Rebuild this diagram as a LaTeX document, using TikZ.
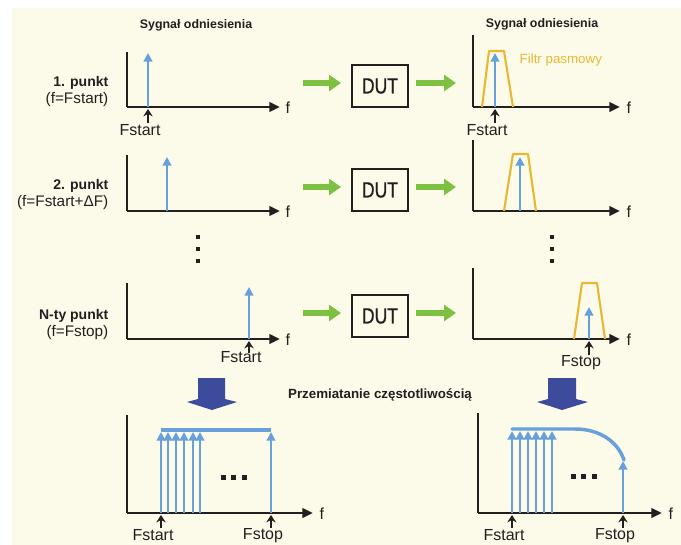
\documentclass[tikz,border=0pt]{standalone}
\usepackage{fontspec}
\setmainfont{Liberation Sans}
\newfontfamily\condfont[FakeStretch=0.8,FakeBold=0.6]{Liberation Sans}
\usetikzlibrary{arrows.meta}
\definecolor{cream}{RGB}{252,251,234}
\definecolor{spikeblue}{RGB}{104,160,220}
\definecolor{arrgreen}{RGB}{125,192,66}
\definecolor{filtyellow}{RGB}{232,184,52}
\definecolor{blockblue}{RGB}{60,75,156}
\definecolor{ink}{RGB}{35,31,32}
\tikzset{
  axisline/.style={ink,line width=1.9pt,-{Triangle[length=8pt,width=7pt]}},
  axisv/.style={ink,line width=1.9pt},
  spike/.style={spikeblue,line width=1.7pt,-{Triangle[length=6.5pt,width=6.5pt]}},
  marker/.style={ink,line width=1.5pt,-{Stealth[length=5.5pt,width=7pt]}},
  filt/.style={filtyellow,line width=1.6pt,line join=round},
  greenarr/.style={arrgreen,line width=4.5pt,-{Triangle[length=9pt,width=12pt]}},
  dutbox/.style={draw=ink,line width=1.7pt,minimum width=42pt,minimum height=32pt,inner sep=0pt,font=\condfont\fontsize{16.5}{18}\selectfont,text=ink},
  ttl/.style={font=\bfseries\fontsize{9.3}{11}\selectfont,text=ink},
  ptl/.style={font=\bfseries\fontsize{10.5}{12}\selectfont,text=ink,anchor=east},
  ptr/.style={font=\fontsize{11.5}{13}\selectfont,text=ink,anchor=east},
  flab/.style={font=\fontsize{12}{14}\selectfont,text=ink},
  dotsq/.style={fill=ink},
  blockarr/.style={fill=blockblue,draw=none}
}
\begin{document}
\begin{tikzpicture}[x=0.75pt,y=-0.75pt]
\useasboundingbox (0,0) rectangle (681,545);
\fill[white] (0,0) rectangle (681,545);
\fill[cream] (12,8) rectangle (681,545);

% titles
\node[ttl] (t1) at (196,25) {Sygnał odniesienia};
\node[ttl] (t2) at (542,24) {Sygnał odniesienia};

% ---------- Row 1 left ----------
\coordinate (o1) at (127,107);
\draw[axisv] (127,52) -- (o1);
\draw[axisline] (o1) -- (280,107);
\node[flab,anchor=west] (f1) at (281,108) {f};
\draw[spike] (148,107) -- (148,53);
\draw[marker] (148,123) -- (148,109);
\node[flab] (fs1) at (140,130) {Fstart};
\node[ptl] (p1a) at (113,83) {1. punkt};
\node[ptr] (p1b) at (113,100) {(f=Fstart)};

% DUT row 1
\coordinate (g1a) at (303,83);
\coordinate (g1b) at (341,83);
\draw[greenarr] (g1a) -- (g1b);
\node[dutbox] (d1) at (380,86) {DUT};
\coordinate (g1c) at (416,83);
\coordinate (g1d) at (456,83);
\draw[greenarr] (g1c) -- (g1d);

% Row 1 right
\coordinate (r1) at (473,107);
\draw[axisv] (473,35) -- (r1);
\draw[axisline] (r1) -- (620,107);
\node[flab,anchor=west] (f1r) at (622,108) {f};
\draw[filt] (482,107) -- (489,51) -- (504,51) -- (513,107);
\draw[spike] (495,107) -- (495,53);
\draw[marker] (495,123) -- (495,109);
\node[flab] (fs1r) at (487,130) {Fstart};
\node[font=\fontsize{10}{12}\selectfont,text=filtyellow,anchor=west] (fp) at (515,60) {Filtr pasmowy};

% ---------- Row 2 left ----------
\coordinate (o2) at (127,211);
\draw[axisv] (127,155) -- (o2);
\draw[axisline] (o2) -- (280,211);
\node[flab,anchor=west] (f2) at (281,212) {f};
\draw[spike] (167,211) -- (167,157);
\node[ptl] (p2a) at (113,186) {2. punkt};
\node[ptr] (p2b) at (113,203) {(f=Fstart+ΔF)};

\coordinate (g2a) at (303,187);
\coordinate (g2b) at (341,187);
\draw[greenarr] (g2a) -- (g2b);
\node[dutbox] (d2) at (380,190) {DUT};
\coordinate (g2c) at (416,187);
\coordinate (g2d) at (456,187);
\draw[greenarr] (g2c) -- (g2d);

% Row 2 right
\coordinate (r2) at (473,211);
\draw[axisv] (473,140) -- (r2);
\draw[axisline] (r2) -- (620,211);
\node[flab,anchor=west] (f2r) at (622,212) {f};
\draw[filt] (504,211) -- (513,154) -- (528,154) -- (536,211);
\draw[spike] (520,211) -- (520,157);

% vertical dots
\foreach \yy in {237,249,261} {
  \fill[dotsq] (196,\yy-2) rectangle (200,\yy+2);
  \fill[dotsq] (550,\yy-2) rectangle (554,\yy+2);
}

% ---------- Row N left ----------
\coordinate (o3) at (127,339);
\draw[axisv] (127,283) -- (o3);
\draw[axisline] (o3) -- (280,339);
\node[flab,anchor=west] (f3) at (281,340) {f};
\draw[spike] (249,339) -- (249,287);
\draw[marker] (249,353) -- (249,341);
\node[flab] (fs3) at (241,357) {Fstart};
\node[ptl] (p3a) at (113,316) {N-ty punkt};
\node[ptr] (p3b) at (113,333) {(f=Fstop)};

\coordinate (g3a) at (303,313);
\coordinate (g3b) at (341,313);
\draw[greenarr] (g3a) -- (g3b);
\node[dutbox] (d3) at (380,316) {DUT};
\coordinate (g3c) at (416,313);
\coordinate (g3d) at (456,313);
\draw[greenarr] (g3c) -- (g3d);

% Row N right
\coordinate (r3) at (473,339);
\draw[axisv] (473,268) -- (r3);
\draw[axisline] (r3) -- (620,339);
\node[flab,anchor=west] (f3r) at (622,340) {f};
\draw[filt] (574,339) -- (582,283) -- (597,283) -- (605,339);
\draw[spike] (589,339) -- (589,307);
\draw[marker] (589,355) -- (589,341);
\node[flab] (fsr3) at (581,363) {Fstop};

% ---------- block arrows ----------
\fill[blockarr] (198,378) -- (225,378) -- (225,399) -- (237,402) -- (212,410) -- (187,402) -- (198,399) -- cycle;
\fill[blockarr] (548,378) -- (576,378) -- (576,399) -- (588,402) -- (562,410) -- (537,402) -- (548,399) -- cycle;

\node[font=\bfseries\fontsize{10}{12}\selectfont,text=ink] (sweep) at (380,395) {Przemiatanie częstotliwością};

% ---------- Bottom left ----------
\coordinate (o4) at (127,513);
\draw[axisv] (127,415) -- (o4);
\draw[axisline] (o4) -- (313,513);
\node[flab,anchor=west] (f4) at (315,514) {f};
\foreach \xx in {161,168,176,184,193,200,271} {
  \draw[spike] (\xx,513) -- (\xx,432);
}
\draw[spikeblue,line width=2.6pt] (161,430) -- (271,430);
\foreach \xx in {223,233,244} \fill[dotsq] (\xx-2.5,474.5) rectangle (\xx+2.5,479.5);
\draw[marker] (161,528) -- (161,515);
\draw[marker] (271,528) -- (271,515);
\node[flab] (fs4) at (153,535) {Fstart};
\node[flab] (fp4) at (263,536) {Fstop};

% ---------- Bottom right ----------
\coordinate (o5) at (478,513);
\draw[axisv] (478,413) -- (o5);
\draw[axisline] (o5) -- (662,513);
\node[flab,anchor=west] (f5) at (664,514) {f};
\foreach \xx in {512,520,528,536,544,552} {
  \draw[spike] (\xx,513) -- (\xx,431);
}
\draw[spike] (623,513) -- (623,461);
\draw[spikeblue,line width=2.6pt,line cap=round] (512,429) -- (575,429) .. controls (600,429) and (618,442) .. (624,460);
\foreach \xx in {573,583,594} \fill[dotsq] (\xx-2.5,473.5) rectangle (\xx+2.5,478.5);
\draw[marker] (512,528) -- (512,515);
\draw[marker] (623,528) -- (623,515);
\node[flab] (fs5) at (504,535) {Fstart};
\node[flab] (fp5) at (615,536) {Fstop};
\end{tikzpicture}
\end{document}
